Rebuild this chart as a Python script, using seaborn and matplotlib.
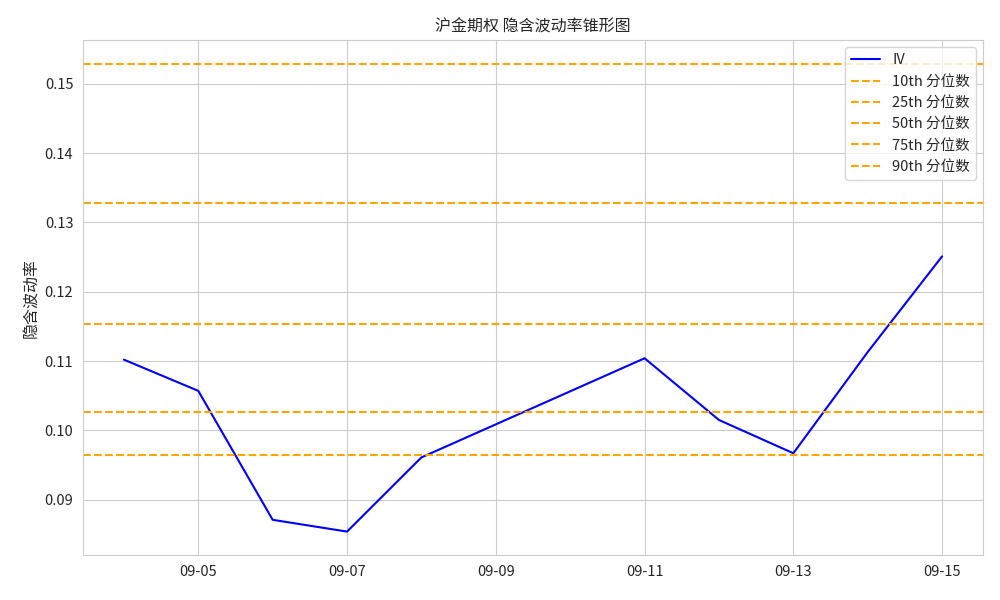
import pandas as pd
import matplotlib
matplotlib.use('Agg')
import matplotlib.pyplot as plt
import matplotlib.dates as mdates
import seaborn as sns

# IV series (trading days only)
dates = ['2023-09-04', '2023-09-05', '2023-09-06', '2023-09-07', '2023-09-08',
         '2023-09-11', '2023-09-12', '2023-09-13', '2023-09-14', '2023-09-15']
iv = [0.1102, 0.1057, 0.0871, 0.0854, 0.0961,
      0.1104, 0.1015, 0.0967, 0.1113, 0.1251]

# percentile levels
pct_labels = ['10th', '25th', '50th', '75th', '90th']
pct_values = [0.0965, 0.1026, 0.1154, 0.1328, 0.1529]

df = pd.DataFrame({'date': pd.to_datetime(dates), 'iv': iv})

sns.set_style('whitegrid')
plt.rcParams['font.family'] = ['Noto Sans CJK SC', 'DejaVu Sans']
plt.rcParams['axes.unicode_minus'] = False

fig, ax = plt.subplots(figsize=(10, 6), dpi=100)
sns.lineplot(x='date', y='iv', data=df, color='blue', label='IV', ax=ax)
for lab, val in zip(pct_labels, pct_values):
    ax.axhline(val, color='orange', linestyle='--', label=lab + ' 分位数')

ax.xaxis.set_major_locator(mdates.DayLocator(bymonthday=[5, 7, 9, 11, 13, 15]))
ax.xaxis.set_major_formatter(mdates.DateFormatter('%m-%d'))
ax.tick_params(labelsize=10.5)
ax.set_xlabel('')
ax.set_ylabel('隐含波动率', fontsize=11.5)
ax.set_title('沪金期权 隐含波动率锥形图', fontsize=11.5)
ax.legend(loc='upper right', fontsize=10.5)
plt.subplots_adjust(left=0.083, right=0.983, top=0.933, bottom=0.075)
plt.savefig('out.png')
